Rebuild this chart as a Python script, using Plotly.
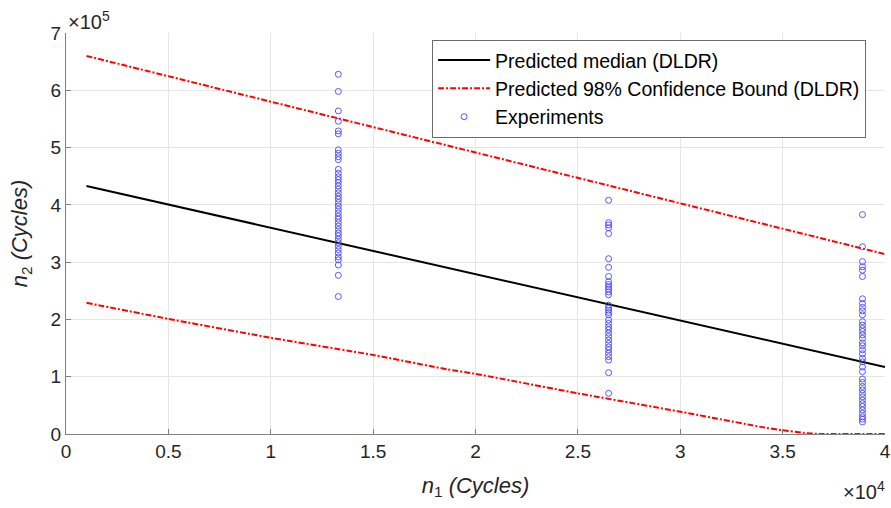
import plotly.graph_objects as go

# ---- data ----
median_x = [1000, 40000]
median_y = [4.33e5, 1.17e5]

upper_x = [1000, 40000]
upper_y = [6.60e5, 3.14e5]

lower_x = [1000, 5000, 10000, 15000, 18600, 20000, 25000, 30000, 34000, 35000, 36000, 36800, 40000]
lower_y = [2.29e5, 2.01e5, 1.68e5, 1.38e5, 1.13e5, 1.05e5, 0.71e5, 0.39e5, 0.12e5, 0.065e5, 0.02e5, 0.0, 0.0]

exp1_x = 13300
exp1_y = [6.28e5, 5.98e5, 5.64e5, 5.46e5, 5.29e5, 5.24e5, 4.96e5, 4.90e5, 4.84e5, 4.79e5,
          4.62e5, 4.55e5, 4.49e5, 4.44e5, 4.39e5, 4.33e5, 4.27e5, 4.21e5, 4.15e5, 4.10e5,
          4.04e5, 3.98e5, 3.92e5, 3.86e5, 3.80e5, 3.75e5, 3.69e5, 3.63e5, 3.57e5, 3.51e5,
          3.46e5, 3.40e5, 3.34e5, 3.28e5, 3.22e5, 3.16e5, 3.09e5, 3.04e5, 2.95e5, 2.77e5, 2.40e5]

exp2_x = 26500
exp2_y = [4.08e5, 3.69e5, 3.65e5, 3.60e5, 3.50e5, 3.06e5, 2.91e5, 2.75e5, 2.66e5, 2.61e5,
          2.57e5, 2.53e5, 2.48e5, 2.43e5, 2.25e5, 2.20e5, 2.16e5, 2.12e5, 2.08e5, 1.99e5,
          1.93e5, 1.87e5, 1.82e5, 1.76e5, 1.70e5, 1.64e5, 1.58e5, 1.52e5, 1.47e5, 1.41e5,
          1.35e5, 1.29e5, 1.07e5, 0.71e5]

exp3_x = 38900
exp3_y = [3.83e5, 3.27e5, 3.01e5, 2.92e5, 2.86e5, 2.75e5, 2.36e5, 2.28e5, 2.21e5, 2.15e5,
          2.08e5, 1.96e5, 1.90e5, 1.84e5, 1.79e5, 1.73e5, 1.67e5, 1.59e5, 1.54e5, 1.47e5,
          1.40e5, 1.32e5, 1.26e5, 1.17e5, 1.09e5, 0.96e5, 0.90e5, 0.83e5, 0.77e5, 0.71e5,
          0.65e5, 0.59e5, 0.53e5, 0.48e5, 0.42e5, 0.36e5, 0.30e5, 0.26e5, 0.21e5]

x_ticks = [0, 5000, 10000, 15000, 20000, 25000, 30000, 35000, 40000]
x_ticktext = ["0", "0.5", "1", "1.5", "2", "2.5", "3", "3.5", "4"]
y_ticks = [0, 1e5, 2e5, 3e5, 4e5, 5e5, 6e5, 7e5]
y_ticktext = ["0", "1", "2", "3", "4", "5", "6", "7"]

exp_x = [exp1_x] * len(exp1_y) + [exp2_x] * len(exp2_y) + [exp3_x] * len(exp3_y)
exp_y = exp1_y + exp2_y + exp3_y

FONT = "Liberation Sans, Arial, sans-serif"
TXT = "#262626"

fig = go.Figure()
fig.add_trace(go.Scatter(x=median_x, y=median_y, mode="lines",
                         line=dict(color="black", width=2),
                         name="Predicted median (DLDR)"))
fig.add_trace(go.Scatter(x=upper_x, y=upper_y, mode="lines",
                         line=dict(color="#ff0000", width=2, dash="6px,2px,2px,2px"),
                         name="Predicted 98% Confidence Bound (DLDR)"))
fig.add_trace(go.Scatter(x=lower_x, y=lower_y, mode="lines",
                         line=dict(color="#ff0000", width=2, dash="6px,2px,2px,2px", shape="spline", smoothing=0.3),
                         name="lower", showlegend=False))
fig.add_trace(go.Scatter(x=exp_x, y=exp_y, mode="markers",
                         marker=dict(symbol="circle-open", size=6, color="#4646ff", line=dict(width=0.9)),
                         name="Experiments"))

fig.update_layout(
    width=891, height=508,
    margin=dict(l=66, r=6, t=33, b=74, autoexpand=False),
    paper_bgcolor="white", plot_bgcolor="white",
    font=dict(family=FONT, color=TXT, size=19),
    showlegend=True,
    legend=dict(x=0.447, y=0.983, xanchor="left", yanchor="top",
                bgcolor="white", bordercolor="#6b6b6b", borderwidth=1,
                font=dict(size=19.5, color="black"),
                tracegroupgap=0, itemwidth=52),
    xaxis=dict(range=[0, 40000], tickvals=x_ticks, ticktext=x_ticktext,
               showgrid=True, gridcolor="#e6e6e6", gridwidth=1,
               showline=True, linecolor="#808080", linewidth=1,
               ticks="inside", ticklen=5, tickcolor="#808080",
               zeroline=False, tickfont=dict(size=19, color=TXT),
               automargin=False, ticklabeloverflow="allow",
               title=dict(text="<i>n</i><sub>1</sub><i> (Cycles)</i>", font=dict(size=22, color=TXT), standoff=16)),
    yaxis=dict(range=[0, 7e5], tickvals=y_ticks, ticktext=y_ticktext,
               showgrid=True, gridcolor="#e6e6e6", gridwidth=1,
               showline=True, linecolor="#808080", linewidth=1,
               ticks="inside", ticklen=5, tickcolor="#808080",
               zeroline=False, tickfont=dict(size=19, color=TXT),
               automargin=False, ticklabeloverflow="allow",
               title=dict(text="<i>n</i><sub>2</sub><i> (Cycles)</i>", font=dict(size=22, color=TXT), standoff=16)),
)

fig.add_annotation(x=0, y=1, xref="paper", yref="paper", xanchor="left", yanchor="bottom",
                   text="×10<sup>5</sup>", showarrow=False, font=dict(size=20, color=TXT), yshift=-2)
fig.add_annotation(x=1, y=0, xref="paper", yref="paper", xanchor="right", yanchor="top",
                   text="×10<sup>4</sup>", showarrow=False, font=dict(size=20, color=TXT), yshift=-42, xshift=2)

fig.write_html("out.html", config={"displayModeBar": False},
               post_script="document.body.style.margin='0';")
